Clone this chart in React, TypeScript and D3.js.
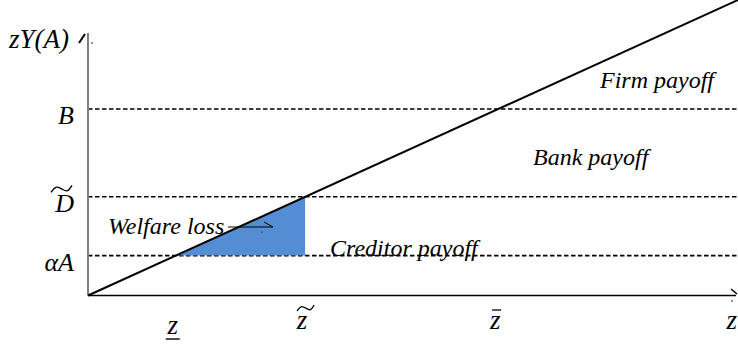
import * as d3 from "d3";

// payoff line zY(A) against z (normalised units)
const lineZ = [0, 10];
const lineY = [0, 10];

// horizontal levels on the y axis
const levelNames = ["αA", "D", "B"];
const levelMarks = ["none", "tilde", "none"];
const levelValues = [1.35, 3.34, 6.31];

// ticks on the z axis
const zTickNames = ["z", "z", "z", "z"];
const zTickMarks = ["under", "tilde", "bar", "none"];
const zTickValues = [1.35, 3.34, 6.31, 9.95];

const regionNames = ["Firm payoff", "Bank payoff", "Creditor payoff", "Welfare loss"];

const W = 738;
const H = 344;

function tilde(x0: number, x1: number, y: number, h: number) {
  const w = x1 - x0;
  const pts: [number, number][] = [
    [x0, y + h * 0.5],
    [x0 + w * 0.25, y - h * 0.5],
    [x0 + w * 0.55, y + h * 0.1],
    [x0 + w * 0.8, y + h * 0.5],
    [x1, y - h * 0.5],
  ];
  return d3.line().curve(d3.curveBasis)(pts) as string;
}

const ts = (size: number) => ({
  fontFamily: "Liberation Serif",
  fontStyle: "italic",
  fontSize: size,
});

export default function App() {
  const x = d3.scaleLinear().domain([0, 10]).range([88, 738]);
  const y = d3.scaleLinear().domain([0, 10]).range([295.5, 0]);
  const line = d3
    .line<number>()
    .x((d) => x(d))
    .y((_, i) => y(lineY[i]));

  const [aA, dT] = [levelValues[0], levelValues[1]];
  const triangle =
    d3.line()([
      [x(zTickValues[0]), y(aA)],
      [x(zTickValues[1]), y(dT)],
      [x(zTickValues[1]), y(aA)],
    ]) + "Z";

  // region label anchors (pixels)
  const regionPos: [number, number][] = [
    [600, 88],
    [533, 165],
    [330, 256],
    [108, 234],
  ];

  return (
    <svg width={W} height={H} style={{ position: "absolute", left: 0, top: 0, background: "#fff" }}>
      {levelValues.map((v, i) => (
        <line
          key={"lv" + i}
          x1={x(0)}
          x2={W}
          y1={y(v)}
          y2={y(v)}
          stroke="#000"
          strokeWidth={1.6}
          strokeDasharray="4.5,2.5"
        />
      ))}

      <path d={triangle} fill="#548dd4" />

      {/* y axis */}
      <line x1={x(0)} x2={x(0)} y1={y(0)} y2={33} stroke="#808080" strokeWidth={2} />
      <line x1={79} y1={43} x2={85} y2={34} stroke="#000" strokeWidth={2} />
      <circle cx={92} cy={43} r={0.8} fill="#000" />

      {/* x axis */}
      <line x1={x(0)} x2={736} y1={y(0)} y2={y(0)} stroke="#000" strokeWidth={1.5} />
      <line x1={731} y1={289} x2={737} y2={294} stroke="#000" strokeWidth={1.5} />
      <circle cx={732} cy={301} r={0.8} fill="#000" />

      <path d={line(lineZ) as string} fill="none" stroke="#000" strokeWidth={2} />

      <text x={9} y={48} style={ts(27)}>
        zY(A)
      </text>

      {levelNames.map((name, i) => (
        <g key={"ln" + i}>
          <text x={74} y={y(levelValues[i]) + 15} textAnchor="end" style={ts(26)}>
            {name}
          </text>
          {levelMarks[i] === "tilde" && (
            <path d={tilde(51, 72, y(levelValues[i]) - 8, 7)} fill="none" stroke="#000" strokeWidth={1.4} />
          )}
        </g>
      ))}

      {zTickNames.map((name, i) => {
        const cx = x(zTickValues[i]);
        const base = zTickMarks[i] === "under" ? 334 : 329;
        return (
          <g key={"zt" + i}>
            <text x={cx - 3} y={base} textAnchor="middle" style={ts(27)}>
              {name}
            </text>
            {zTickMarks[i] === "under" && (
              <line x1={cx - 10} x2={cx + 4} y1={base + 5} y2={base + 5} stroke="#000" strokeWidth={1.4} />
            )}
            {zTickMarks[i] === "tilde" && (
              <path d={tilde(cx - 8, cx + 9, 308, 6)} fill="none" stroke="#000" strokeWidth={1.3} />
            )}
            {zTickMarks[i] === "bar" && (
              <line x1={cx - 6} x2={cx + 3} y1={310} y2={310} stroke="#000" strokeWidth={1.3} />
            )}
          </g>
        );
      })}

      {regionNames.map((name, i) => (
        <text key={"rg" + i} x={regionPos[i][0]} y={regionPos[i][1]} style={ts(24)}>
          {name}
        </text>
      ))}

      {/* welfare loss arrow */}
      <line x1={228} x2={273} y1={227} y2={227} stroke="#000" strokeWidth={1} />
      <line x1={264} y1={222} x2={273} y2={227} stroke="#000" strokeWidth={1} />
      <circle cx={262} cy={232} r={0.6} fill="#000" />
    </svg>
  );
}
